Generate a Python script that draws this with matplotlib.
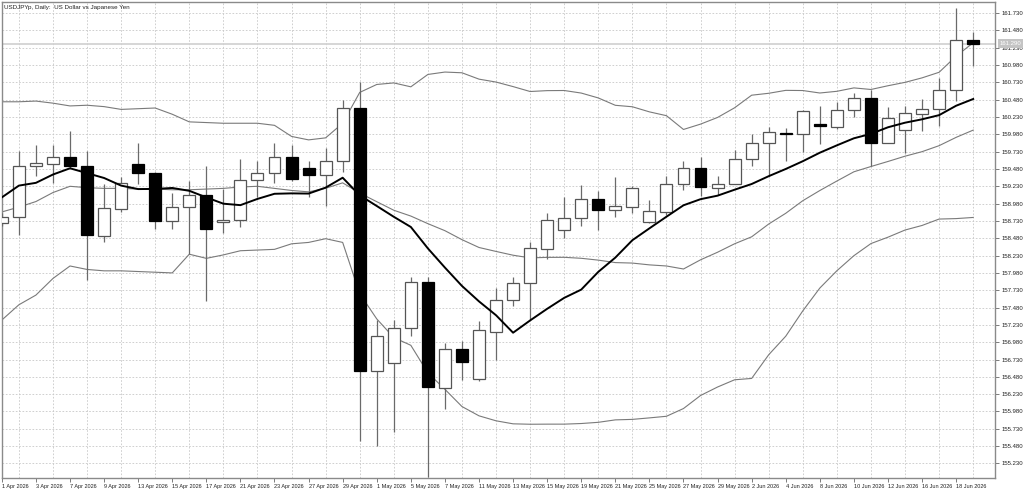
import numpy as np
import pandas as pd
import matplotlib
matplotlib.use('Agg')
import matplotlib.pyplot as plt

plt.rcParams['font.family'] = ['Liberation Sans Narrow', 'Liberation Sans', 'DejaVu Sans']

# ---- data ----
dates = pd.bdate_range('2026-04-01', '2026-06-19')

opens = [158.70, 158.78, 159.52, 159.55, 159.66, 159.53, 158.51, 158.90, 159.55, 159.42,
         158.73, 158.93, 159.11, 158.71, 158.75, 159.32, 159.42, 159.65, 159.49, 159.39,
         159.60, 160.36, 156.57, 156.68, 157.18, 157.85, 156.32, 156.88, 156.45, 157.13,
         157.59, 157.83, 158.32, 158.60, 158.77, 159.04, 158.89, 158.93, 158.71, 158.86,
         159.27, 159.49, 159.21, 159.27, 159.62, 159.85, 160.00, 159.98, 160.13, 160.09,
         160.33, 160.50, 159.85, 160.04, 160.28, 160.35, 160.62, 161.34]
highs = [158.85, 159.74, 159.83, 159.83, 160.03, 159.74, 159.27, 159.37, 159.86, 159.43,
         159.13, 159.30, 159.52, 159.19, 159.63, 159.59, 159.85, 159.83, 159.60, 159.78,
         160.48, 160.73, 157.30, 157.30, 157.92, 157.92, 156.97, 157.00, 157.28, 157.76,
         157.92, 158.43, 158.85, 159.08, 159.25, 159.16, 159.36, 159.23, 159.03, 159.38,
         159.59, 159.65, 159.38, 159.76, 159.98, 160.09, 160.07, 160.33, 160.39, 160.45,
         160.57, 160.62, 160.38, 160.39, 160.49, 160.79, 161.81, 161.45]
lows = [158.65, 158.53, 159.38, 159.28, 159.49, 157.88, 158.43, 158.86, 159.27, 158.61,
        158.62, 158.26, 157.58, 158.55, 158.64, 159.08, 159.28, 159.30, 159.08, 158.95,
        159.44, 155.55, 155.48, 155.69, 157.07, 155.04, 156.01, 156.43, 156.42, 156.73,
        157.50, 157.30, 158.18, 158.48, 158.65, 158.60, 158.79, 158.84, 158.70, 158.82,
        159.17, 159.09, 159.10, 159.26, 159.52, 159.38, 159.59, 159.73, 159.84, 160.05,
        160.23, 159.52, 159.85, 159.71, 160.03, 160.10, 160.46, 160.97]
closes = [158.79, 159.52, 159.56, 159.66, 159.53, 158.52, 158.91, 159.28, 159.42, 158.73,
          158.93, 159.11, 158.61, 158.75, 159.32, 159.42, 159.65, 159.34, 159.39, 159.59,
          160.36, 156.57, 157.07, 157.19, 157.85, 156.33, 156.88, 156.69, 157.16, 157.59,
          157.84, 158.34, 158.75, 158.77, 159.04, 158.89, 158.94, 159.20, 158.87, 159.27,
          159.49, 159.22, 159.26, 159.63, 159.86, 160.02, 159.98, 160.32, 160.10, 160.33,
          160.51, 159.86, 160.21, 160.29, 160.35, 160.62, 161.34, 161.29]

# indicator values for the first bars (history before 1 Apr not shown)
ma10_early = [159.07, 159.24, 159.28, 159.40, 159.49, 159.42, 159.35, 159.24, 159.19]
bb_upper_early = [160.45, 160.45, 160.46, 160.43, 160.39, 160.40, 160.38, 160.34, 160.35, 160.36,
                  160.27, 160.16, 160.15, 160.14, 160.14, 160.14, 160.11, 159.95, 159.90]
bb_mid_early = [158.86, 158.93, 159.01, 159.14, 159.23, 159.21, 159.20, 159.20, 159.19, 159.19,
                159.18, 159.18, 159.19, 159.20, 159.22, 159.23, 159.20, 159.17, 159.15]
bb_lower_early = [157.30, 157.52, 157.66, 157.90, 158.08, 158.03, 158.01, 158.01, 158.00, 157.99,
                  157.98, 158.25, 158.19, 158.24, 158.30, 158.31, 158.32, 158.40, 158.42]

title = "USDJPYp, Daily:  US Dollar vs Japanese Yen"
current_price = 161.29
y_ticks = [155.23 + 0.25 * k for k in range(27)]

# ---- indicators ----
c = pd.Series(closes)
ma10 = c.rolling(10).mean().to_numpy()
ma10[:len(ma10_early)] = ma10_early
mid = c.rolling(20, min_periods=20).mean().to_numpy()
sd = c.rolling(20, min_periods=20).std(ddof=0).to_numpy()
upper = mid + 2 * sd
lower = mid - 2 * sd
n0 = len(bb_mid_early)
mid[:n0] = bb_mid_early
upper[:n0] = bb_upper_early
lower[:n0] = bb_lower_early

# ---- figure ----
W, H = 1024, 492
fig = plt.figure(figsize=(W / 100, H / 100), dpi=100)
ax = fig.add_axes([1.5 / W, 1 - 478 / H, (995 - 1.5) / W, (478 - 2) / H])
ax.set_facecolor('white')

x = np.arange(len(closes))
o = np.array(opens); cl = np.array(closes)
hi = np.array(highs); lo = np.array(lows)
bull = cl >= o

ax.set_xlim(-0.02, 58.28)
ax.set_ylim(155.02, 161.89)

# grid
ax.set_xticks(x, minor=True)
ax.set_yticks(y_ticks)
ax.grid(True, which='minor', axis='x', color='#c8c8c8', linestyle=(0, (2, 2)), linewidth=0.6)
ax.grid(True, which='major', axis='y', color='#c8c8c8', linestyle=(0, (2, 2)), linewidth=0.6)
ax.set_axisbelow(True)

# current price line
ax.axhline(current_price, color='#d0d0d0', linewidth=1.2, zorder=1)

# bands and MA
ax.plot(x, upper, color='#7a7a7a', linewidth=0.8, zorder=2)
ax.plot(x, mid, color='#7a7a7a', linewidth=0.8, zorder=2)
ax.plot(x, lower, color='#7a7a7a', linewidth=0.8, zorder=2)
ax.plot(x, ma10, color='black', linewidth=1.4, zorder=5)

# candles
ax.vlines(x, lo, hi, color='#6a6a6a', linewidth=0.9, zorder=3)
body_h = np.maximum(np.abs(cl - o), 0.02)
body_b = np.minimum(o, cl)
ax.bar(x[bull], body_h[bull], bottom=body_b[bull], width=0.7,
       color='white', edgecolor='#555555', linewidth=0.9, zorder=4)
ax.bar(x[~bull], body_h[~bull], bottom=body_b[~bull], width=0.7,
       color='black', edgecolor='black', linewidth=0.9, zorder=4)

# axes styling
for s in ax.spines.values():
    s.set_color('#8a8a8a')
    s.set_linewidth(1.0)
ax.yaxis.tick_right()
ax.tick_params(axis='y', which='major', direction='out', length=3, width=0.6,
               color='#666666', labelsize=4.3, pad=1.5, labelcolor='#222222')
ax.set_yticklabels([f"{v:.3f}" for v in y_ticks])

xt = x[::2]
ax.set_xticks(xt)
ax.set_xticklabels([f"{d.day} {d.strftime('%b')} {d.year}" for d in dates[::2]],
                   ha='left')
ax.tick_params(axis='x', which='major', direction='out', length=3, width=0.6,
               color='#666666', labelsize=4.0, pad=1.5, labelcolor='#222222')
ax.tick_params(axis='x', which='minor', length=0)

ax.text(0.003, 0.993, title, transform=ax.transAxes, ha='left', va='top',
        fontsize=4.5, color='#222222')

ax.annotate(f"{current_price:.3f}", xy=(1.0, current_price),
            xycoords=('axes fraction', 'data'), xytext=(3.5, 0),
            textcoords='offset points', ha='left', va='center',
            fontsize=4.3, color='white',
            bbox=dict(boxstyle='square,pad=0.3', facecolor='#c4c4c4', edgecolor='none'))

fig.savefig('out.png', dpi=100, facecolor='white')
